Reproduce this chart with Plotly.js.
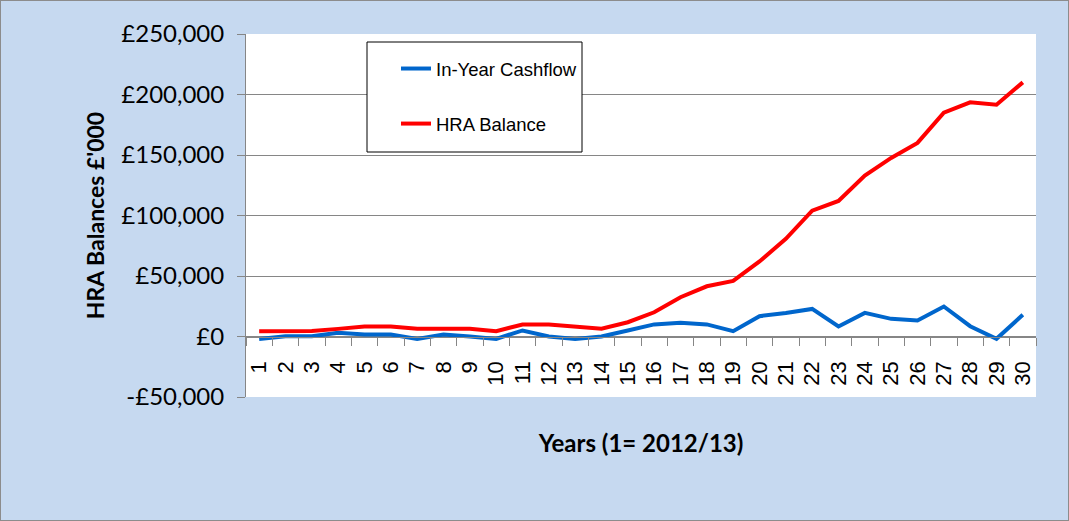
<!DOCTYPE html>
<html>
<head>
<meta charset="utf-8">
<script src="https://cdn.plot.ly/plotly-3.0.1.min.js"></script>
<style>
  html, body { margin: 0; padding: 0; background: #C6D9F0; }
  #wrap { width: 1069px; height: 521px; box-sizing: border-box; border: 1px solid #8C8C8C; overflow: hidden; }
  #chart { width: 1067px; height: 519px; }
</style>
</head>
<body>
<div id="wrap"><div id="chart"></div></div>
<script>
// ---- data ----
const years = ['1','2','3','4','5','6','7','8','9','10','11','12','13','14','15',
               '16','17','18','19','20','21','22','23','24','25','26','27','28','29','30'];
const inYearCashflow = [-2000, 200, 200, 3000, 1700, 1700, -2000, 1700, 0, -2000,
                        5000, 0, -2000, 0, 5000, 10000, 11300, 10000, 4400, 16800,
                        19500, 22800, 8300, 19500, 14600, 13200, 24800, 8500, -1900, 17900];
const hraBalance = [4400, 4600, 4600, 6300, 8300, 8300, 6400, 6400, 6400, 4400,
                    9900, 9900, 8300, 6400, 11800, 20000, 32500, 41500, 46000, 62000,
                    80700, 104000, 112000, 133000, 147600, 160000, 185000, 193500, 191600, 210000];
const yTickVals = [-50000, 0, 50000, 100000, 150000, 200000, 250000];
const yTickLabels = ['-£50,000', '£0', '£50,000', '£100,000', '£150,000', '£200,000', '£250,000'];
const seriesNames = ['In-Year Cashflow', 'HRA Balance'];
const xTitle = 'Years (1= 2012/13)';
const yTitle = "HRA Balances £'000";

// ---- chart ----
const traces = [
  { x: years, y: inYearCashflow, name: seriesNames[0], type: 'scatter', mode: 'lines',
    line: { color: '#0066CC', width: 4 }, legendgroup: 'a' },
  { x: years, y: hraBalance, name: seriesNames[1], type: 'scatter', mode: 'lines',
    line: { color: '#FF0000', width: 4 }, legendgroup: 'b' }
];

const plotW = 790, plotH = 363;   // plot area size in px (for placing the legend box)
const layout = {
  width: 1067, height: 519,
  margin: { l: 245, r: 32, t: 33, b: 123 },
  paper_bgcolor: '#C6D9F0',
  plot_bgcolor: '#FFFFFF',
  showlegend: true,
  legend: {
    x: (396 - 246) / plotW, y: (397 - 50) / plotH, xanchor: 'left', yanchor: 'top',
    bgcolor: 'rgba(0,0,0,0)', borderwidth: 0,
    font: { family: 'Liberation Sans, Arial, sans-serif', size: 18.5, color: '#000000' },
    traceorder: 'grouped', tracegroupgap: 28
  },
  shapes: [{
    type: 'rect', xref: 'paper', yref: 'paper', layer: 'above',
    x0: (367 - 246) / plotW, x1: (582 - 246) / plotW,
    y0: (397 - 152) / plotH, y1: (397 - 42) / plotH,
    fillcolor: '#FFFFFF', line: { color: '#000000', width: 1 }
  }],
  xaxis: {
    type: 'category', categoryorder: 'array', categoryarray: years,
    range: [-0.5, 29.5],
    anchor: 'free', position: 1/6,
    showline: true, linecolor: '#868686', linewidth: 1,
    ticks: 'outside', tickson: 'boundaries', ticklen: 8, tickcolor: '#868686',
    tickangle: -90, ticklabelstandoff: 15,
    tickfont: { family: 'Liberation Sans, Arial, sans-serif', size: 22, color: '#000000' },
    showgrid: false, zeroline: false,
    title: { text: xTitle, standoff: 50,
             font: { family: 'Lato, sans-serif', size: 24, color: '#000000', weight: 'bold' } }
  },
  yaxis: {
    range: [-50000, 250000],
    tickmode: 'array', tickvals: yTickVals, ticktext: yTickLabels,
    showline: true, linecolor: '#868686', linewidth: 1,
    ticks: 'outside', ticklen: 8, tickcolor: '#868686',
    showgrid: true, gridcolor: '#868686', gridwidth: 1,
    zeroline: false,
    ticklabelstandoff: 8,
    tickfont: { family: 'Lato, sans-serif', size: 24, color: '#000000' },
    title: { text: yTitle, standoff: 10,
             font: { family: 'Lato, sans-serif', size: 23, color: '#000000', weight: 'bold' } }
  }
};

Plotly.newPlot('chart', traces, layout, { displayModeBar: false, staticPlot: true });
</script>
</body>
</html>
